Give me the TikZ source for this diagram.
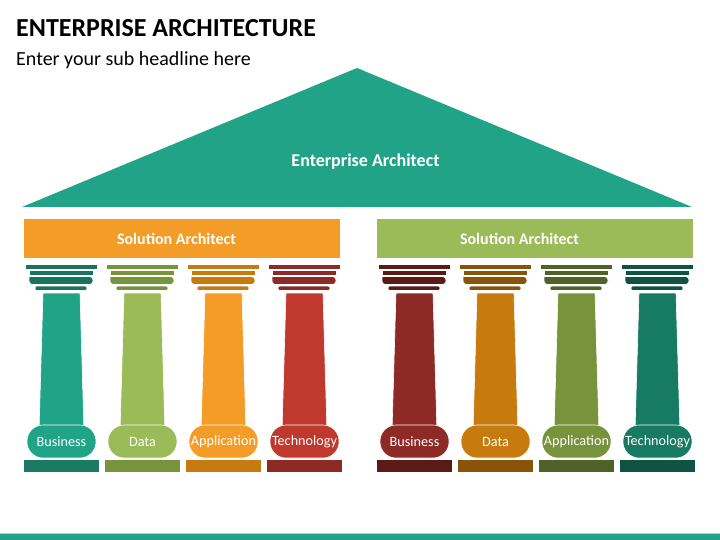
\documentclass[tikz,border=0pt]{standalone}
\usepackage{fontspec}
\setmainfont{Carlito}
\definecolor{tealA}{HTML}{21A387}
\definecolor{tealC}{HTML}{18735F}
\definecolor{tealB}{HTML}{1A7A64}
\definecolor{greenA}{HTML}{9BBB59}
\definecolor{greenC}{HTML}{77933C}
\definecolor{orangeA}{HTML}{F39C27}
\definecolor{orangeC}{HTML}{C77A0E}
\definecolor{redA}{HTML}{C0392F}
\definecolor{redC}{HTML}{8E2A25}
\definecolor{dredC}{HTML}{5C1A17}
\definecolor{dorC}{HTML}{8A5408}
\definecolor{oliveC}{HTML}{4F6228}
\definecolor{dtealA}{HTML}{177A63}
\definecolor{dtealC}{HTML}{0F5343}
\tikzset{
  barbox/.style={draw=white, line width=0.6pt},
  pill/.style={rounded corners=16pt, minimum width=69pt, minimum height=33pt, inner sep=0pt, text=white, font=\fontsize{14.2}{16}\selectfont, draw=white, line width=0.6pt},
  basebox/.style={minimum width=76pt, minimum height=13pt, inner sep=0pt, draw=white, line width=0.6pt},
  solbox/.style={minimum width=317pt, minimum height=40pt, inner sep=0pt, draw=white, line width=0.6pt},
  soltext/.style={text=white, font=\bfseries\fontsize{16}{18}\selectfont}
}
\begin{document}
\begin{tikzpicture}[x=1pt, y=-1pt]
\useasboundingbox (0,0) rectangle (720,540);
% titles
\node[anchor=base west, inner sep=0pt, font=\bfseries\fontsize{26}{30}\selectfont] (title) at (16,37) {ENTERPRISE ARCHITECTURE};
\node[anchor=base west, inner sep=0pt, font=\fontsize{20}{23}\selectfont] (sub) at (16,66) {Enter your sub headline here};
% roof
\fill[tealA] (357,68) -- (692,207) -- (22,207) -- cycle;
\node[text=white, font=\bfseries\fontsize{18}{20}\selectfont] (ea) at (365.5,162) {Enterprise Architect};
% solution architect bars
\node[solbox, fill=orangeA] (sa1) at (181.5,238) {};
\node[solbox, fill=greenA] (sa2) at (534.5,238) {};
\node[soltext] (sa1t) at (176.5,238.5) {Solution Architect};
\node[soltext] (sa2t) at (519.5,238.5) {Solution Architect};
% pillars
\foreach \c/\sh/\cp/\bs/\lab/\nm in {
  61/tealA/tealC/tealB/Business/p1,
  142/greenA/greenC/greenC/Data/p2,
  223/orangeA/orangeC/orangeC/Application/p3,
  304/redA/redC/redC/Technology/p4,
  414/redC/dredC/dredC/Business/p5,
  495/orangeC/dorC/dorC/Data/p6,
  576/greenC/oliveC/oliveC/Application/p7,
  657/dtealA/dtealC/dtealC/Technology/p8} {
  % shaft
  \filldraw[barbox, fill=\sh] (\c-18,293) -- (\c+19,293) -- (\c+23,432) -- (\c-22,432) -- cycle;
  % capital
  \filldraw[barbox, fill=\cp] (\c-36,264) rectangle (\c+36,269.5);
  \filldraw[barbox, fill=\cp] (\c-32,270.5) rectangle (\c+32,275.5);
  \filldraw[barbox, fill=\cp] (\c-32,276.5) [rounded corners=3.5pt] -- (\c-32,284.5) -- (\c+32,284.5) -- (\c+32,276.5) [sharp corners] -- cycle;
  \filldraw[barbox, fill=\cp, rounded corners=2pt] (\c-26,286) rectangle (\c+26,290.5);
  % label pill and base
  \node[pill, fill=\sh] (\nm) at (\c+0.5,441.5) {\lab};
  \node[basebox, fill=\bs] (\nm b) at (\c,465.5) {};
}
% bottom line
\fill[tealA] (0,534) rectangle (720,540);
\draw[tealA!40, line width=0.6pt] (0,533.5) -- (720,533.5);
\end{tikzpicture}
\end{document}
